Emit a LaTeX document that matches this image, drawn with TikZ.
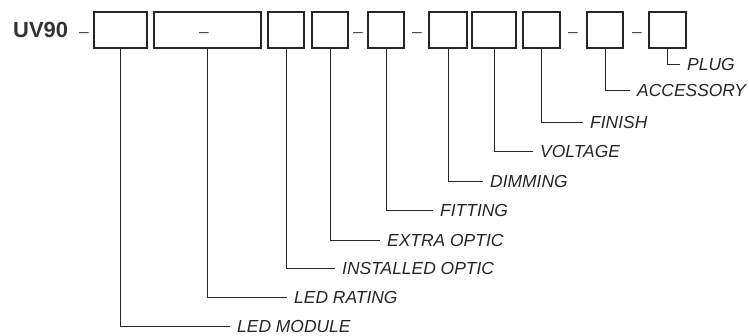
\documentclass[tikz,border=0pt]{standalone}
\usepackage{fontspec}
\setmainfont{Liberation Sans}
\usepackage{tikz}

\begin{document}
\begin{tikzpicture}[x=1bp,y=-1bp,
	box/.style={draw=black!85,line width=1.1bp,inner sep=0pt,minimum height=36bp},
	sep/.style={anchor=base,inner sep=0pt,font=\fontsize{17.5}{20}\selectfont,text=black!70},
	lbl/.style={anchor=west,inner xsep=7bp,inner ysep=0pt,font=\fontsize{17.5}{20}\selectfont\itshape,text=black!85},
	lead/.style={draw=black!85,line width=1bp}]

	\useasboundingbox (0,0) rectangle (749,335);

	% code and boxes
	\node[anchor=base west,inner sep=0pt,font=\fontsize{22}{26}\selectfont\bfseries,text=black!80] (code) at (13,37) {UV90};
	\node[box,minimum width=53bp] (module) at (120.5,30) {};
	\node[box,minimum width=107bp] (rating) at (207.5,30) {};
	\node[box,minimum width=36bp] (optic) at (286,30) {};
	\node[box,minimum width=36bp] (extra) at (330,30) {};
	\node[box,minimum width=36bp] (fitting) at (386,30) {};
	\node[box,minimum width=38bp] (dimming) at (448,30) {};
	\node[box,minimum width=44bp] (voltage) at (494,30) {};
	\node[box,minimum width=37bp] (finish) at (541.5,30) {};
	\node[box,minimum width=36bp] (accessory) at (605,30) {};
	\node[box,minimum width=37bp] (plug) at (667.5,30) {};

	% separators
	\node[sep] (s1) at (84,37) {–};
	\node[sep] (s2) at (204,37) {–};
	\node[sep] (s3) at (358,37) {–};
	\node[sep] (s4) at (417,37) {–};
	\node[sep] (s5) at (573,37) {–};
	\node[sep] (s6) at (637,37) {–};

	% labels
	\node[lbl] (l-module) at (230,326.5) {LED MODULE};
	\node[lbl] (l-rating) at (287,297) {LED RATING};
	\node[lbl] (l-optic) at (335,268) {INSTALLED OPTIC};
	\node[lbl] (l-extra) at (380,240) {EXTRA OPTIC};
	\node[lbl] (l-fitting) at (433,210) {FITTING};
	\node[lbl] (l-dimming) at (483,181) {DIMMING};
	\node[lbl] (l-voltage) at (533,151) {VOLTAGE};
	\node[lbl] (l-finish) at (583,122) {FINISH};
	\node[lbl] (l-accessory) at (630,90) {ACCESSORY};
	\node[lbl] (l-plug) at (680,64) {PLUG};

	\draw[lead] (module.south) |- (l-module.west);
	\draw[lead] (rating.south) |- (l-rating.west);
	\draw[lead] (optic.south) |- (l-optic.west);
	\draw[lead] (extra.south) |- (l-extra.west);
	\draw[lead] (fitting.south) |- (l-fitting.west);
	\draw[lead] (dimming.south) |- (l-dimming.west);
	\draw[lead] (voltage.south) |- (l-voltage.west);
	\draw[lead] (finish.south) |- (l-finish.west);
	\draw[lead] (accessory.south) |- (l-accessory.west);
	\draw[lead] (plug.south) |- (l-plug.west);

\end{tikzpicture}
\end{document}
